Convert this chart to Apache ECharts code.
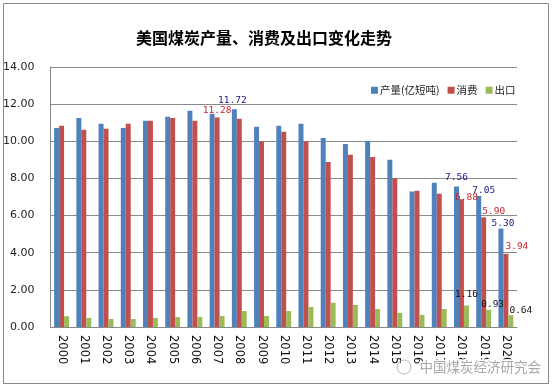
<!DOCTYPE html>
<html><head><meta charset="utf-8">
<script src="https://cdn.jsdelivr.net/npm/echarts@6/dist/echarts.min.js"></script>
<style>html,body{margin:0;padding:0;background:#fff}#c{width:552px;height:388px}</style>
</head><body><div id="c"></div>
<script>
var years = ['2000','2001','2002','2003','2004','2005','2006','2007','2008','2009','2010','2011','2012','2013','2014','2015','2016','2017','2018','2019','2020'];
var production = [10.71, 11.26, 10.94, 10.72, 11.10, 11.32, 11.64, 11.48, 11.72, 10.78, 10.83, 10.94, 10.18, 9.86, 10.02, 9.01, 7.29, 7.77, 7.56, 7.05, 5.30];
var consumption = [10.83, 10.62, 10.67, 10.94, 11.10, 11.26, 11.10, 11.28, 11.21, 10.00, 10.51, 10.00, 8.89, 9.27, 9.16, 8.01, 7.34, 7.18, 6.88, 5.90, 3.94];
var exports = [0.58, 0.49, 0.43, 0.43, 0.49, 0.54, 0.54, 0.59, 0.86, 0.59, 0.86, 1.08, 1.30, 1.19, 0.97, 0.76, 0.65, 0.97, 1.16, 0.93, 0.64];
var yTicks = [0, 2, 4, 6, 8, 10, 12, 14];
var seriesNames = ['产量(亿短吨)', '消费', '出口'];

// labelled points: index -> label offset
var prodLabels = {8: [-2, -1], 18: [0, -1], 19: [5, 2], 20: [2, 3]};
var consLabels = {7: [0, 1], 18: [5, 6], 19: [10, 2], 20: [11, 1]};
var expLabels = {18: [0, -3], 19: [4, 3], 20: [10, 3]};

function build(values, labels, color) {
  return values.map(function (v, i) {
    var item = {value: v};
    if (labels[i]) {
      item.label = {show: true, position: 'top', distance: 3, offset: labels[i], color: color,
        fontFamily: 'DejaVu Sans Mono', fontSize: 9.5,
        formatter: function (p) { return p.value.toFixed(2); }};
    }
    return item;
  });
}

var chart = echarts.init(document.getElementById('c'), null, {renderer: 'canvas'});
chart.setOption({
  animation: false,
  backgroundColor: '#fff',
  title: {
    text: '美国煤炭产量、消费及出口变化走势', left: 131, top: 25,
    textStyle: {fontFamily: 'Noto Sans CJK SC', fontSize: 16, fontWeight: 'bold', color: '#000'}
  },
  legend: {
    data: seriesNames, left: 366, top: 80, itemWidth: 7, itemHeight: 7, itemGap: 8,
    icon: 'rect',
    textStyle: {fontFamily: 'Noto Sans CJK SC', fontSize: 10.5, color: '#222', padding: [0, 0, 0, -3]}
  },
  grid: {left: 49, right: 35, top: 67, bottom: 61},
  xAxis: {
    type: 'category', data: years,
    axisLine: {lineStyle: {color: '#888'}},
    axisTick: {show: false},
    axisLabel: {rotate: -90, margin: 8, fontFamily: 'DejaVu Sans', fontSize: 11.5, color: '#111', interval: 0}
  },
  yAxis: {
    type: 'value', min: yTicks[0], max: yTicks[yTicks.length - 1], interval: 2,
    axisLine: {show: true, lineStyle: {color: '#888'}},
    axisTick: {show: false},
    splitLine: {lineStyle: {color: '#8a8a8a'}},
    axisLabel: {margin: 16, fontFamily: 'DejaVu Sans', fontSize: 11, color: '#222',
      formatter: function (v) { return v.toFixed(2); }}
  },
  series: [
    {name: seriesNames[0], type: 'bar', data: build(production, prodLabels, '#1a1a80'),
      itemStyle: {color: '#4f81bd'}, barGap: '0%', barCategoryGap: '33%'},
    {name: seriesNames[1], type: 'bar', data: build(consumption, consLabels, '#c0282d'),
      itemStyle: {color: '#c0504d'}},
    {name: seriesNames[2], type: 'bar', data: build(exports, expLabels, '#111'),
      itemStyle: {color: '#9bbb59'}}
  ],
  graphic: [
    {type: 'rect', shape: {x: 3.5, y: 3.5, width: 545, height: 380}, style: {fill: 'none', stroke: '#888', lineWidth: 1}, silent: true, z: 100},
    {type: 'circle', shape: {cx: 404, cy: 367, r: 7}, style: {fill: 'none', stroke: '#bbb', lineWidth: 1}, z: 100},
    {type: 'text', left: 418, top: 359, style: {text: '中国煤炭经济研究会', fontFamily: 'Noto Sans CJK SC', fontSize: 13.5, fill: '#a8a8a8', stroke: '#fff', lineWidth: 3}, z: 100}
  ]
});
</script></body></html>
